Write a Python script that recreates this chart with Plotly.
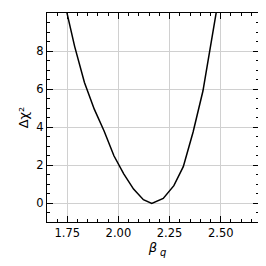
import plotly.graph_objects as go

beta_q = [1.738, 1.786, 1.834, 1.882, 1.930, 1.978, 2.026, 2.074, 2.122, 2.163,
          2.219, 2.271, 2.317, 2.365, 2.413, 2.461, 2.509]
delta_chi2 = [10.5, 8.25, 6.35, 4.95, 3.80, 2.50, 1.55, 0.75, 0.19, 0.0,
              0.26, 0.93, 1.93, 3.75, 5.90, 9.0, 12.0]

fig = go.Figure()
fig.add_trace(go.Scatter(x=beta_q, y=delta_chi2, mode="lines",
                         line=dict(color="black", width=1.5), showlegend=False))
tfont = dict(family="DejaVu Sans", size=11.5, color="black")
fig.update_xaxes(range=[1.651, 2.687], dtick=0.25, tick0=1.75, tickformat=".2f",
                 ticks="inside", ticklen=6, tickwidth=1, tickcolor="black",
                 tickfont=tfont,
                 showline=True, linecolor="black", mirror="ticks",
                 gridcolor="#d0d0d0", zeroline=False,
                 minor=dict(ticks="inside", ticklen=3, dtick=0.05, tickcolor="black"),
                 title=dict(text="β", font=dict(family="DejaVu Sans", size=13, color="black", style="italic"),
                            standoff=2))
fig.update_yaxes(range=[-0.98, 10.001], dtick=2, ticks="inside", ticklen=6, tickwidth=1, tickcolor="black",
                 tickfont=tfont,
                 showline=True, linecolor="black", mirror="ticks",
                 gridcolor="#d0d0d0", zeroline=False,
                 minor=dict(ticks="inside", ticklen=3, dtick=0.5, tickcolor="black"),
                 title=dict(text="Δχ²", font=dict(family="DejaVu Sans", size=13, color="black"), standoff=4))
fig.add_annotation(text="q", xref="paper", yref="paper", x=0.525, y=0, yshift=-30,
                   xanchor="left", yanchor="middle", showarrow=False,
                   font=dict(family="DejaVu Sans", size=10, color="black", style="italic"))
fig.update_layout(width=258, height=258, margin=dict(l=39, r=7, t=5, b=44),
                  paper_bgcolor="white", plot_bgcolor="white")
fig.write_html("out.html")
